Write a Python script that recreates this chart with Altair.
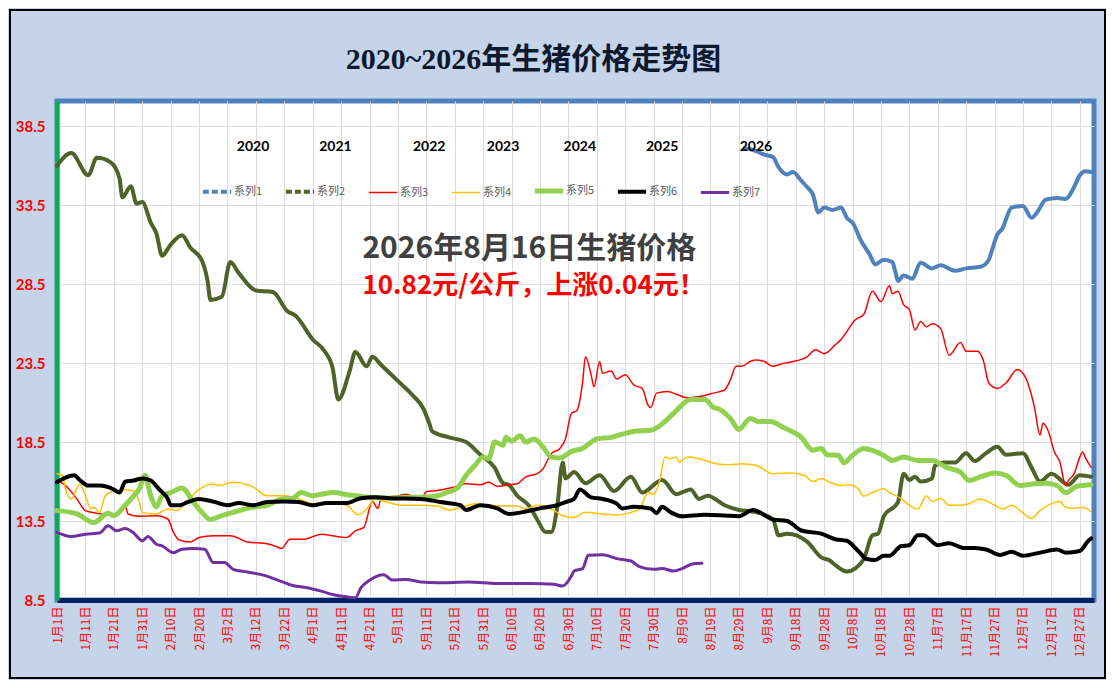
import json
import pandas as pd
import altair as alt

# series names / styles
names = ['系列1', '系列2', '系列3', '系列4', '系列5', '系列6', '系列7']
colors = ['#4f81bd', '#4f6228', '#ff0000', '#ffc000', '#92d050', '#000000', '#7030a0']
widths = [4, 4, 1.5, 1.5, 5, 4, 3]

# day index (0 = 1月1日) and price
s1_day = [242, 245, 249, 252, 254, 257, 259, 262, 264, 266, 268, 270, 273, 276, 278, 280, 283, 286,
          288, 291, 294, 295, 296, 298, 301, 304, 308, 311, 316, 320, 325, 328, 329, 331, 333, 334,
          336, 340, 343, 345, 348, 352, 355, 358, 360, 362, 364]
s1_val = [37.1, 37.0, 36.7, 36.55, 35.9, 35.45, 35.6, 35.05, 34.65, 34.2, 33.05, 33.35, 33.2, 33.35,
          32.7, 32.4, 31.25, 30.4, 29.75, 30.05, 29.9, 29.35, 28.7, 29.05, 28.85, 29.85, 29.5, 29.7,
          29.35, 29.5, 29.6, 30.05, 30.6, 31.65, 32.1, 32.6, 33.35, 33.45, 32.7, 33.05, 33.85, 33.95,
          33.9, 34.65, 35.4, 35.65, 35.6]

s2_day = [0, 5, 11, 14, 19, 22, 23, 26, 28, 30, 33, 35, 37, 40, 44, 47, 51, 53, 54, 58, 61, 64, 70,
          76, 81, 84, 90, 94, 97, 99, 103, 105, 109, 111, 114, 121, 125, 129, 131, 132, 138, 144, 149,
          154, 157, 159, 162, 166, 169, 172, 174, 176, 178, 179, 182, 186, 191, 196, 202, 206, 213,
          218, 223, 226, 229, 235, 240, 245, 252, 254, 257, 264, 269, 272, 274, 278, 281, 284, 287,
          289, 291, 296, 298, 300, 302, 304, 308, 309, 312, 316, 320, 323, 327, 331, 334, 340, 343,
          346, 350, 356, 360, 364]
s2_val = [36.0, 36.8, 35.4, 36.5, 36.2, 35.2, 34.0, 34.7, 33.6, 33.7, 32.4, 31.7, 30.3, 31.0, 31.6,
          30.8, 30.0, 28.7, 27.5, 27.7, 29.9, 29.2, 28.1, 28.0, 26.8, 26.5, 25.0, 24.3, 23.2, 21.2,
          23.0, 24.2, 23.3, 23.9, 23.4, 22.2, 21.5, 20.6, 19.7, 19.2, 18.8, 18.5, 17.7, 16.9, 15.9,
          15.8, 15.1, 14.5, 13.6, 12.8, 12.8, 14.3, 17.2, 16.2, 16.6, 15.9, 16.4, 15.4, 16.3, 15.3,
          16.1, 15.2, 15.5, 14.9, 15.1, 14.5, 14.2, 14.1, 13.6, 12.6, 12.7, 12.2, 11.2, 11.0, 10.7,
          10.3, 10.5, 11.1, 12.6, 12.7, 13.8, 14.7, 16.5, 16.1, 16.3, 16.0, 16.2, 17.0, 17.2, 17.2,
          17.8, 17.3, 17.8, 18.2, 17.7, 17.8, 16.9, 16.0, 16.5, 15.8, 16.4, 16.3]

s3_day = [0, 3, 7, 10, 14, 19, 22, 24, 25, 29, 35, 39, 41, 43, 47, 50, 55, 61, 67, 74, 77, 79, 82,
          87, 93, 97, 102, 105, 108, 111, 113, 114, 120, 123, 128, 130, 134, 137, 141, 144, 149, 152,
          155, 159, 162, 165, 169, 171, 174, 177, 179, 181, 183, 185, 186, 188, 189, 191, 192, 195,
          197, 200, 203, 206, 208, 209, 211, 215, 218, 222, 226, 231, 235, 237, 239, 241, 244, 246,
          249, 252, 256, 259, 264, 267, 270, 274, 276, 281, 284, 287, 290, 293, 294, 296, 298, 300,
          302, 304, 306, 308, 311, 314, 318, 320, 324, 326, 328, 331, 334, 338, 341, 344, 346, 347,
          349, 351, 353, 355, 356, 358, 360, 361, 362, 364]
s3_val = [16.07, 15.75, 14.9, 14.16, 14.0, 13.88, 14.05, 14.5, 13.95, 13.8, 13.84, 13.63, 12.78,
          12.3, 12.18, 12.46, 12.57, 12.57, 12.18, 12.06, 11.9, 11.76, 12.35, 12.35, 12.67, 12.57,
          12.46, 12.88, 13.1, 14.73, 14.3, 14.9, 15.1, 15.2, 14.8, 15.35, 15.43, 15.54, 15.7, 15.86,
          15.8, 15.96, 15.7, 15.8, 15.86, 16.3, 16.5, 16.8, 17.77, 18.1, 18.72, 20.3, 20.5, 22.3,
          23.9, 22.76, 22.0, 23.6, 22.86, 23.0, 22.5, 22.76, 22.12, 21.9, 20.85, 20.68, 21.6, 21.7,
          21.53, 21.3, 21.38, 21.6, 21.8, 22.44, 23.3, 23.3, 23.6, 23.7, 23.6, 23.3, 23.5, 23.6,
          23.9, 24.35, 24.1, 24.67, 25.0, 26.25, 26.6, 28.05, 27.4, 28.4, 27.9, 28.05, 27.2, 26.9,
          25.6, 26.14, 25.8, 26.0, 25.7, 24.0, 24.8, 24.26, 24.26, 23.7, 22.24, 21.9, 22.24, 23.1,
          22.55, 20.75, 18.95, 19.7, 19.16, 17.9, 17.24, 15.75, 16.07, 16.5, 17.55, 17.87, 17.5, 16.9]

s4_day = [0, 2, 3, 5, 8, 10, 12, 13, 15, 17, 20, 24, 27, 29, 30, 35, 39, 42, 46, 50, 55, 57, 62, 67,
          69, 74, 80, 85, 90, 96, 102, 106, 109, 112, 116, 122, 128, 134, 138, 143, 147, 152, 157,
          162, 165, 169, 175, 178, 182, 186, 192, 197, 202, 205, 208, 210, 212, 214, 216, 218, 219,
          222, 226, 232, 237, 241, 246, 252, 258, 263, 266, 269, 272, 276, 279, 282, 284, 287, 291,
          293, 297, 300, 303, 306, 308, 311, 314, 318, 321, 325, 330, 333, 336, 339, 343, 346, 350,
          353, 355, 358, 361, 364]
s4_val = [16.5, 16.4, 15.5, 14.9, 15.85, 15.1, 14.26, 14.37, 14.05, 15.1, 15.4, 15.5, 15.4, 14.7,
          14.05, 13.95, 14.26, 14.16, 14.8, 15.5, 15.85, 15.75, 15.96, 15.8, 15.65, 15.1, 15.1, 14.9,
          14.6, 14.65, 14.5, 13.9, 14.26, 14.9, 14.7, 14.5, 14.5, 14.45, 14.2, 14.4, 14.6, 14.5,
          14.45, 14.45, 14.26, 14.5, 14.16, 13.84, 13.73, 14.05, 13.95, 13.88, 14.05, 14.26, 15.3,
          15.2, 15.96, 17.55, 17.45, 17.55, 17.24, 17.55, 17.45, 17.13, 17.07, 17.13, 17.03, 16.5,
          16.55, 16.4, 16.0, 16.2, 15.96, 15.75, 15.8, 15.54, 15.07, 15.3, 15.54, 15.3, 14.94, 14.5,
          14.26, 15.1, 14.73, 14.94, 14.5, 14.5, 14.6, 14.9, 14.5, 14.26, 14.5, 14.16, 13.67, 14.16,
          14.6, 14.73, 14.37, 14.3, 14.37, 14.1]

s5_day = [0, 7, 13, 18, 20, 24, 27, 29, 31, 33, 35, 37, 40, 44, 48, 51, 54, 58, 62, 67, 70, 74, 79,
          83, 86, 90, 93, 97, 103, 107, 110, 117, 124, 130, 134, 137, 141, 144, 147, 150, 152, 154,
          157, 158, 160, 163, 165, 168, 171, 174, 177, 181, 185, 190, 195, 199, 204, 209, 214, 218,
          223, 228, 231, 233, 237, 240, 244, 247, 251, 256, 262, 266, 269, 271, 275, 277, 280, 284,
          287, 291, 294, 298, 303, 308, 313, 318, 321, 325, 330, 334, 339, 344, 348, 352, 355, 359,
          364]
s5_val = [14.16, 13.95, 13.4, 14.0, 13.85, 14.5, 15.1, 15.55, 16.4, 15.1, 14.4, 15.1, 15.3, 15.6,
          14.7, 14.05, 13.6, 13.85, 14.05, 14.3, 14.4, 14.5, 14.9, 14.95, 15.3, 15.1, 15.2, 15.3,
          15.15, 15.07, 15.0, 14.95, 15.0, 15.0, 15.1, 15.3, 15.6, 16.4, 17.0, 17.55, 17.45, 18.5,
          18.3, 18.8, 18.55, 18.9, 18.5, 18.7, 18.2, 17.55, 17.5, 17.9, 18.1, 18.7, 18.8, 19.0, 19.2,
          19.25, 19.8, 20.5, 21.2, 21.2, 20.7, 20.6, 20.0, 19.3, 20.0, 19.8, 19.8, 19.4, 18.8, 17.98,
          18.1, 17.7, 17.66, 17.2, 17.66, 18.1, 17.98, 17.66, 17.34, 17.55, 17.34, 17.34, 16.9, 16.6,
          16.07, 16.3, 16.55, 16.4, 15.75, 15.86, 15.9, 15.75, 15.3, 15.7, 15.8]

s6_day = [0, 6, 8, 11, 15, 20, 22, 24, 27, 30, 33, 36, 39, 40, 43, 46, 50, 55, 60, 64, 69, 74, 80,
          85, 90, 95, 102, 107, 112, 117, 128, 135, 142, 144, 149, 155, 159, 165, 170, 176, 179, 182,
          184, 188, 192, 197, 199, 203, 209, 211, 213, 216, 220, 228, 235, 240, 245, 252, 257, 262,
          269, 274, 278, 282, 285, 288, 291, 293, 297, 300, 303, 305, 310, 314, 319, 323, 327, 332,
          336, 340, 346, 352, 355, 360, 363, 364]
s6_val = [15.96, 16.4, 16.1, 15.75, 15.75, 15.5, 15.3, 16.0, 16.07, 16.2, 16.07, 15.5, 14.9, 14.5,
          14.5, 14.7, 14.9, 14.73, 14.5, 14.65, 14.5, 14.7, 14.73, 14.7, 14.5, 14.65, 14.65, 14.95,
          15.0, 14.95, 14.9, 14.7, 14.5, 14.2, 14.5, 14.3, 13.95, 14.1, 14.3, 14.5, 14.7, 14.9, 15.5,
          15.0, 14.9, 14.6, 14.3, 14.4, 14.3, 14.0, 14.4, 14.05, 13.8, 13.9, 13.85, 13.8, 14.2, 13.6,
          13.5, 12.9, 12.7, 12.35, 12.25, 11.6, 11.1, 11.04, 11.3, 11.3, 11.9, 11.97, 12.6, 12.6,
          11.97, 12.1, 11.8, 11.8, 11.7, 11.35, 11.55, 11.3, 11.5, 11.7, 11.5, 11.6, 12.25, 12.4]

s7_day = [0, 5, 10, 15, 18, 21, 24, 27, 30, 32, 35, 37, 41, 44, 48, 52, 55, 59, 62, 67, 73, 77, 83,
          88, 93, 97, 102, 105, 107, 110, 115, 118, 123, 128, 134, 145, 155, 167, 175, 178, 181, 182,
          185, 187, 192, 197, 202, 205, 210, 213, 217, 220, 224, 227]
s7_val = [12.78, 12.52, 12.67, 12.74, 13.2, 12.88, 13.03, 12.74, 12.25, 12.52, 12.03, 11.93, 11.5,
          11.72, 11.76, 11.72, 10.87, 10.87, 10.44, 10.27, 10.06, 9.81, 9.42, 9.28, 9.06, 8.85, 8.7,
          8.64, 9.28, 9.75, 10.1, 9.76, 9.8, 9.64, 9.59, 9.64, 9.55, 9.55, 9.49, 9.38, 10.0, 10.34,
          10.49, 11.33, 11.36, 11.12, 10.97, 10.61, 10.44, 10.49, 10.34, 10.49, 10.8, 10.82]

x_labels = ['1月1日', '1月11日', '1月21日', '1月31日', '2月10日', '2月20日', '3月2日', '3月12日',
            '3月22日', '4月1日', '4月11日', '4月21日', '5月1日', '5月11日', '5月21日', '5月31日',
            '6月10日', '6月20日', '6月30日', '7月10日', '7月20日', '7月30日', '8月9日', '8月19日',
            '8月29日', '9月8日', '9月18日', '9月28日', '10月8日', '10月18日', '10月28日', '11月7日',
            '11月17日', '11月27日', '12月7日', '12月17日', '12月27日']
y_ticks = [8.5, 13.5, 18.5, 23.5, 28.5, 33.5, 38.5]

year_labels = ['2020', '2021', '2022', '2023', '2024', '2025', '2026']
year_label_day = [69, 98, 131, 157, 184, 213, 246]

headline = '2026年8月16日生猪价格'
subline = '10.82元/公斤，上涨0.04元！'

days = [s1_day, s2_day, s3_day, s4_day, s5_day, s6_day, s7_day]
vals = [s1_val, s2_val, s3_val, s4_val, s5_val, s6_val, s7_val]
rows = []
for n, d, v in zip(names, days, vals):
    for dd, vv in zip(d, v):
        rows.append({'series': n, 'day': dd, 'price': vv})
df = pd.DataFrame(rows)

cjk = 'Noto Sans CJK SC'
x_scale = alt.Scale(domain=[0, 365], nice=False, zero=False)
y_scale = alt.Scale(domain=[8.5, 40.1], nice=False, zero=False)

# legend shared by colour and stroke width; series 1 and 2 get a dashed sample
dash_expr = "indexof(['系列1', '系列2'], datum.value) >= 0 ? [6, 3] : [1, 0]"
legend = alt.Legend(title=None, orient='none', legendX=143, legendY=73,
                    direction='horizontal', columns=7, symbolType='stroke',
                    symbolSize=800, labelFont=cjk, labelFontSize=11,
                    labelColor='#595959', labelOffset=0, columnPadding=12, gridAlign='all',
                    symbolDash={'expr': dash_expr})

lines = alt.Chart(df).mark_line(interpolate='monotone', strokeCap='round', strokeJoin='round').encode(
    x=alt.X('day:Q', scale=x_scale, title=None,
            axis=alt.Axis(values=list(range(0, 361, 10)), tickCount=40,
                          labelExpr=json.dumps(x_labels, ensure_ascii=False) + '[round(datum.value / 10)]',
                          labelAngle=-90, labelColor='#ff0000', labelFont=cjk, labelFontSize=12,
                          labelPadding=6, ticks=False, domainColor='#002060', domainWidth=5,
                          grid=True, gridColor='#dcdcdc', labelOverlap=False)),
    y=alt.Y('price:Q', scale=y_scale, title=None,
            axis=alt.Axis(values=y_ticks, format='.1f', labelColor='#ff0000', labelFont='Lato',
                          labelFontWeight='bold', labelFontSize=15, labelPadding=12, ticks=False,
                          domainColor='#00b050', domainWidth=4, grid=True, gridColor='#dcdcdc')),
    color=alt.Color('series:N', scale=alt.Scale(domain=names, range=colors), legend=legend),
    strokeWidth=alt.StrokeWidth('series:N', scale=alt.Scale(type='ordinal', domain=names, range=widths),
                                legend=legend),
    order=alt.Order('day:Q'),
)

years = alt.Chart(pd.DataFrame({'label': year_labels, 'day': year_label_day})).mark_text(
    font='Lato', fontSize=14, fontWeight='bold', color='#000000'
).encode(x='day:Q', y=alt.datum(37.2), text='label:N')

head = alt.Chart(pd.DataFrame({'t': [headline]})).mark_text(
    align='left', font=cjk, fontSize=30, fontWeight='bold', color='#404040'
).encode(x=alt.datum(107.5), y=alt.datum(30.7), text='t:N')

sub = alt.Chart(pd.DataFrame({'t': [subline]})).mark_text(
    align='left', font=cjk, fontSize=26, fontWeight='bold', color='#ff0000'
).encode(x=alt.datum(107.5), y=alt.datum(28.4), text='t:N')

# outer chart frame
frame = alt.Chart(pd.DataFrame({'a': [0]})).mark_rect(
    fillOpacity=0, stroke='#000000', strokeWidth=2
).encode(x=alt.value(-47), x2=alt.value(1048), y=alt.value(-91), y2=alt.value(577))

chart = alt.layer(lines, years, head, sub, frame).properties(
    width=1037, height=499,
    autosize=alt.AutoSizeParams(type='none'),
    padding={'left': 49, 'top': 93, 'right': 12, 'bottom': 80},
    background='#c6d4ea',
    title=alt.TitleParams('2020~2026年生猪价格走势图', font='Liberation Serif, Noto Sans CJK SC',
                          fontSize=30, fontWeight='bold', color='#0d1a2e', anchor='middle',
                          frame='group', dx=-42, offset=-66),
).configure_view(stroke='#4f81bd', strokeWidth=5, fill='#ffffff')

chart.save('out.html', embed_options={'renderer': 'svg', 'actions': False})
